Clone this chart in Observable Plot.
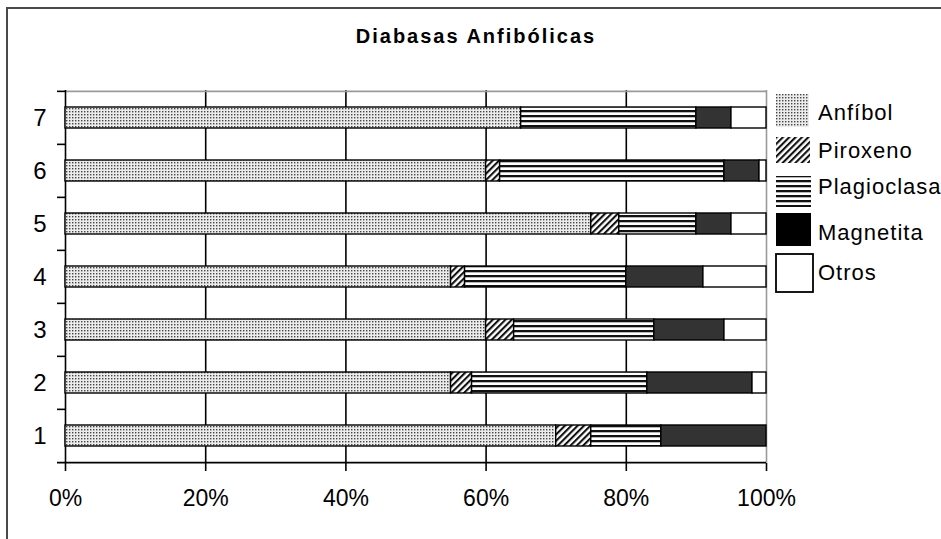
<!DOCTYPE html>
<html>
<head>
<meta charset="utf-8">
<script src="https://cdn.jsdelivr.net/npm/d3@7"></script>
<script src="https://cdn.jsdelivr.net/npm/@observablehq/plot@0.6"></script>
<style>
  body { margin: 0; background: #fff; }
  #wrap { position: relative; width: 941px; height: 539px; overflow: hidden; background: #fff;
          font-family: "Liberation Sans", Arial, sans-serif; }
  #border { position: absolute; left: 6px; top: 7px; width: 1000px; height: 600px;
            border-top: 2px solid #4a4a4a; border-left: 2px solid #4a4a4a; }
  #title { position: absolute; left: 6px; width: 940px; top: 25px; text-align: center;
           font-weight: bold; font-size: 20px; letter-spacing: 2px; line-height: 22px; color: #000; }
  #chart { position: absolute; left: 0; top: 60px; }
  #legend { position: absolute; left: 770px; top: 85px; }
</style>
</head>
<body>
<div id="wrap">
  <div id="border"></div>
  <div id="title">Diabasas Anfibólicas</div>
  <div id="chart"></div>
  <svg id="legend" width="171" height="215"></svg>
</div>
<script>
// ---- data ----
const categories = ["1", "2", "3", "4", "5", "6", "7"];
const minerals = ["Anfíbol", "Piroxeno", "Plagioclasa", "Magnetita", "Otros"];
const anfibol     = [70, 55, 60, 55, 75, 60, 65];
const piroxeno    = [5, 3, 4, 2, 4, 2, 0];
const plagioclasa = [10, 25, 20, 23, 11, 32, 25];
const magnetita   = [15, 15, 10, 11, 5, 5, 5];
const otros       = [0, 2, 6, 9, 5, 1, 5];
const xTicks = [0, 20, 40, 60, 80, 100];

// ---- styles ----
const fills = ["url(#pDots)", "url(#pHatch)", "url(#pLines)", "#333333", "#ffffff"];
const legendFills = ["url(#pDots)", "url(#pHatch)", "url(#pLines)", "#000000", "#ffffff"];

const series = [anfibol, piroxeno, plagioclasa, magnetita, otros];
const data = [];
categories.forEach((c, i) => {
  series.forEach((arr, j) => {
    if (arr[i] > 0) data.push({cat: c, mineral: minerals[j], value: arr[i]});
  });
});

const W = 941, H = 479, mt = 30, mb = 76, ml = 65, mr = 175;
const step = (H - mt - mb) / categories.length;
const pxPerUnit = (W - ml - mr) / 100;
const tickLen = 8;
const tx = -tickLen / pxPerUnit;
const font = '"Liberation Sans", Arial, sans-serif';
const sw = 1.6;

const plot = Plot.plot({
  width: W, height: H,
  marginTop: mt, marginBottom: mb, marginLeft: ml, marginRight: mr,
  style: {fontFamily: font, fontSize: "23px", color: "#000", background: "transparent", overflow: "visible"},
  x: {domain: [0, 100]},
  y: {domain: categories.slice().reverse(), paddingInner: 0.6, paddingOuter: 0.3},
  color: {domain: minerals, range: fills},
  marks: [
    Plot.ruleX(xTicks.slice(1, -1), {stroke: "#000", strokeWidth: sw}),
    Plot.ruleX([100], {stroke: "#9a9a9a", strokeWidth: sw}),
    Plot.ruleY([categories[categories.length - 1]], {dy: -step / 2, x1: 0, x2: 100, stroke: "#9a9a9a", strokeWidth: sw}),
    Plot.ruleY(categories, {dy: -step / 2, x1: tx, x2: 0, stroke: "#000", strokeWidth: sw}),
    Plot.ruleY([categories[0]], {dy: step / 2, x1: tx, x2: 100, stroke: "#000", strokeWidth: sw}),
    Plot.ruleX([0], {stroke: "#000", strokeWidth: sw}),
    Plot.barX(data, Plot.stackX({x: "value", y: "cat", fill: "mineral", stroke: "#000", strokeWidth: 1.4})),
    Plot.axisX({ticks: xTicks, tickSize: 8, tickPadding: 18, tickFormat: d => d + "%", label: null, strokeWidth: sw}),
    Plot.axisY({tickSize: 0, tickPadding: 19, label: null, fontSize: 24})
  ]
});

// pattern definitions
const svg = d3.select(plot);
const defs = svg.insert("defs", ":first-child");
const pd = defs.append("pattern").attr("id", "pDots").attr("patternUnits", "userSpaceOnUse")
  .attr("width", 3).attr("height", 3);
pd.append("rect").attr("width", 3).attr("height", 3).attr("fill", "#ececec");
pd.append("rect").attr("width", 1.4).attr("height", 1.4).attr("fill", "#444");

const ph = defs.append("pattern").attr("id", "pHatch").attr("patternUnits", "userSpaceOnUse")
  .attr("width", 4.5).attr("height", 4.5).attr("patternTransform", "rotate(45)");
ph.append("rect").attr("width", 4.5).attr("height", 4.5).attr("fill", "#fff");
ph.append("rect").attr("width", 2.1).attr("height", 4.5).attr("fill", "#111");

const pl = defs.append("pattern").attr("id", "pLines").attr("patternUnits", "userSpaceOnUse")
  .attr("width", 6).attr("height", 5);
pl.append("rect").attr("width", 6).attr("height", 5).attr("fill", "#fff");
pl.append("rect").attr("width", 6).attr("height", 2.3).attr("fill", "#111");

document.getElementById("chart").appendChild(plot);

// ---- legend ----
const legendLayout = [
  {x: 6, y: 9, w: 33, h: 33, ty: 35},
  {x: 6, y: 52, w: 34, h: 26, ty: 73},
  {x: 6, y: 91, w: 35, h: 31, ty: 109},
  {x: 6, y: 128, w: 35, h: 33, ty: 155},
  {x: 6, y: 169, w: 37, h: 38, ty: 195}
];
const lg = d3.select("#legend");
minerals.forEach((m, i) => {
  const L = legendLayout[i];
  lg.append("rect").attr("x", L.x).attr("y", L.y).attr("width", L.w).attr("height", L.h)
    .attr("fill", legendFills[i])
    .attr("stroke", m === "Otros" ? "#000" : "none").attr("stroke-width", 1.8);
  lg.append("text").attr("x", 48).attr("y", L.ty).text(m)
    .attr("font-family", font).attr("font-size", 22).attr("letter-spacing", 1).attr("fill", "#000");
});
</script>
</body>
</html>
